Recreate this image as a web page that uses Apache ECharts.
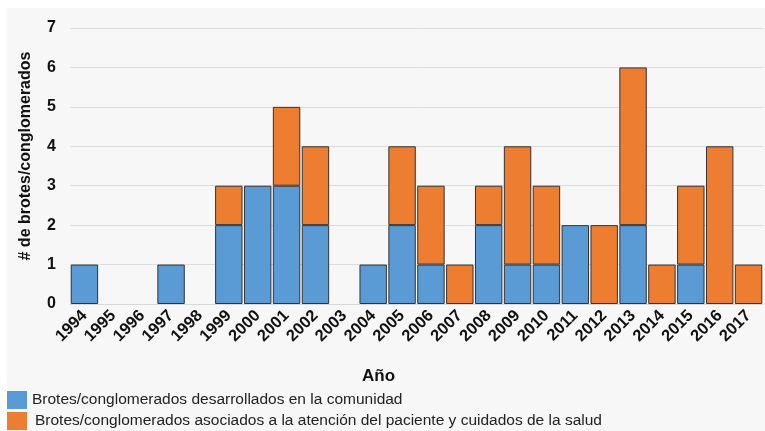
<!DOCTYPE html>
<html><head><meta charset="utf-8">
<script src="https://cdn.jsdelivr.net/npm/echarts@6/dist/echarts.min.js"></script>
<style>html,body{margin:0;padding:0;background:#fff}#c{width:765px;height:431px}</style>
</head><body><div id="c"></div>
<script>
const years = ['1994','1995','1996','1997','1998','1999','2000','2001','2002','2003','2004','2005','2006','2007','2008','2009','2010','2011','2012','2013','2014','2015','2016','2017'];
const community = [1,0,0,1,0,2,3,3,2,0,1,2,1,0,2,1,1,2,0,2,0,1,0,0];
const healthcare = [0,0,0,0,0,1,0,2,2,0,0,2,2,1,1,3,2,0,2,4,1,2,4,1];
const yTicks = [0,1,2,3,4,5,6,7];
const seriesNames = ['Brotes/conglomerados desarrollados en la comunidad','Brotes/conglomerados asociados a la atención del paciente y cuidados de la salud'];

const chart = echarts.init(document.getElementById('c'), null, {renderer:'canvas'});
const font = 'Liberation Sans, Arial, sans-serif';
function legendFor(name, top, pad){
  return {orient:'horizontal',left:7,top:top,padding:0,itemWidth:20,itemHeight:18,icon:'rect',
    itemStyle:{borderWidth:0},data:[name],
    textStyle:{fontFamily:font,fontSize:15.5,color:'#222',padding:[0,0,0,pad]}};
}
chart.setOption({
  animation:false,
  backgroundColor:'#fff',
  graphic:[{type:'rect',z:-10,left:7,top:8,shape:{width:758,height:423},style:{fill:'#f7f7f7'}}],
  grid:{left:70,right:2,top:28,bottom:127},
  legend:[legendFor(seriesNames[0],391,0),legendFor(seriesNames[1],412,3)],
  xAxis:{
    type:'category',data:years,
    name:'Año',nameLocation:'middle',nameGap:64,
    nameTextStyle:{fontFamily:font,fontSize:17,fontWeight:'bold',color:'#111',padding:[0,76,0,0]},
    axisLine:{show:true,lineStyle:{color:'#d9d9d9'}},
    axisTick:{show:false},
    axisLabel:{rotate:45,interval:0,fontFamily:font,fontSize:16.5,fontWeight:'bold',color:'#111',margin:9}
  },
  yAxis:{
    type:'value',min:0,max:7,interval:1,
    name:'# de brotes/conglomerados',nameLocation:'middle',nameGap:36,
    nameTextStyle:{fontFamily:font,fontSize:16,fontWeight:'bold',color:'#111',padding:[0,0,0,20]},
    axisLabel:{fontFamily:font,fontSize:16,fontWeight:'bold',color:'#111',margin:14,
      formatter:v=>yTicks.includes(v)?String(v):''},
    splitLine:{lineStyle:{color:'#dcdcdc'}},
    axisLine:{show:false},axisTick:{show:false}
  },
  series:[
    {name:seriesNames[0],type:'bar',stack:'a',data:community.map(v=>v||null),barCategoryGap:'5%',
     itemStyle:{color:'#5b9bd5',borderColor:'#333',borderWidth:1}},
    {name:seriesNames[1],type:'bar',stack:'a',data:healthcare.map(v=>v||null),barCategoryGap:'5%',
     itemStyle:{color:'#ed7d31',borderColor:'#333',borderWidth:1}}
  ]
});
</script></body></html>
